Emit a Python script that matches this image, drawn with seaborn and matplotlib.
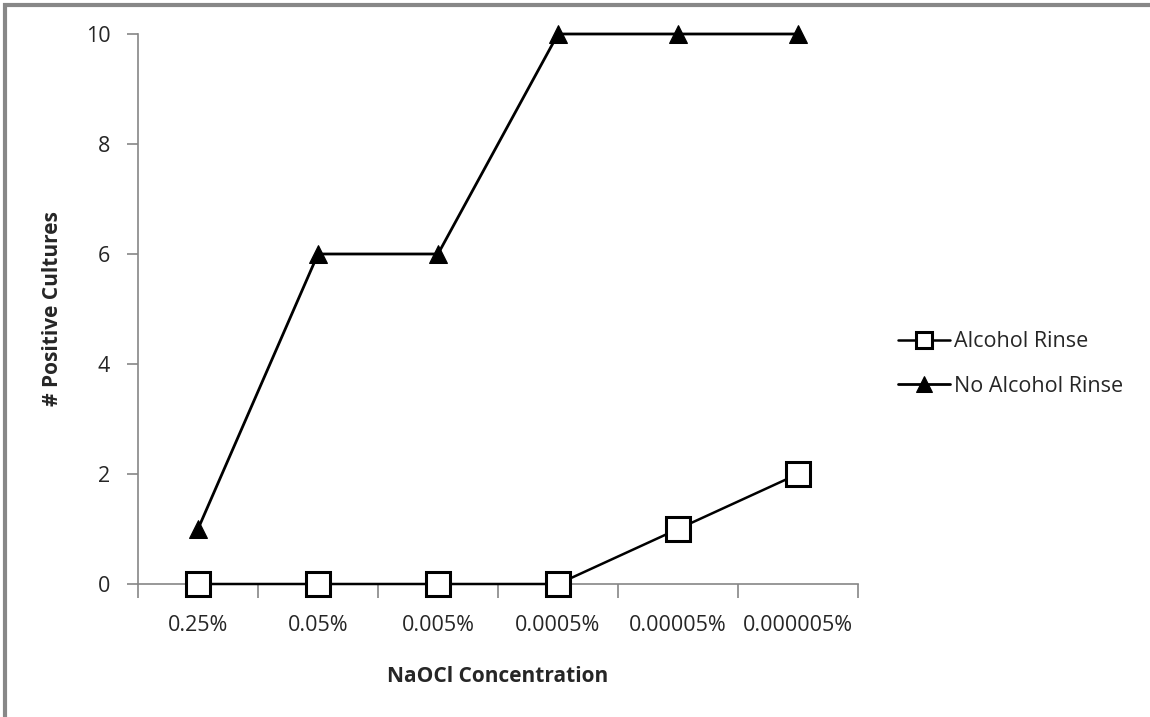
import numpy as np
import pandas as pd
import seaborn as sns
import matplotlib.pyplot as plt
from matplotlib.patches import Rectangle

concentrations = ['0.25%', '0.05%', '0.005%', '0.0005%', '0.00005%', '0.000005%']
alcohol_rinse = [0, 0, 0, 0, 1, 2]
no_alcohol_rinse = [1, 6, 6, 10, 10, 10]

df = pd.DataFrame({
    'idx': np.arange(len(concentrations)),
    'Alcohol Rinse': alcohol_rinse,
    'No Alcohol Rinse': no_alcohol_rinse,
})

sns.set_style('white')
plt.rcParams['font.family'] = ['Open Sans', 'DejaVu Sans']

fig = plt.figure(figsize=(11.5, 7.17), dpi=100)
ax = fig.add_axes([138 / 1150, 1 - 584 / 717, 720 / 1150, 550 / 717])

# outer chart border (only top and left visible in the crop)
fig.patches.append(Rectangle((5 / 1150, -0.1), 1.2, 1 - 5 / 717 + 0.1, transform=fig.transFigure,
                             fill=False, edgecolor='#878787', linewidth=3, zorder=0))

sns.lineplot(data=df, x='idx', y='Alcohol Rinse', ax=ax, color='black', linewidth=1.8,
             marker='s', markersize=17, markerfacecolor='white', markeredgecolor='black',
             markeredgewidth=2.2, label='Alcohol Rinse', clip_on=False, zorder=3)
sns.lineplot(data=df, x='idx', y='No Alcohol Rinse', ax=ax, color='black', linewidth=2.0,
             marker='^', markersize=13, markerfacecolor='black', markeredgecolor='black',
             label='No Alcohol Rinse', clip_on=False, zorder=3)

ax.set_xlim(-0.5, len(concentrations) - 0.5)
ax.set_ylim(0, 10)
ax.set_yticks([0, 2, 4, 6, 8, 10])
ax.set_xticks(np.arange(-0.5, len(concentrations), 1.0))
ax.set_xticklabels([])
ax.set_xticks(np.arange(len(concentrations)), minor=True)
ax.set_xticklabels(concentrations, minor=True)

for s in ['top', 'right']:
    ax.spines[s].set_visible(False)
for s in ['left', 'bottom']:
    ax.spines[s].set_color('#868686')
    ax.spines[s].set_linewidth(1.2)

ax.tick_params(axis='y', which='major', direction='out', length=8, width=1.2, color='#868686',
               labelsize=15.5, pad=12, left=True)
ax.tick_params(axis='x', which='major', direction='out', length=10, width=1.2, color='#868686',
               bottom=True)
ax.tick_params(axis='x', which='minor', length=0, labelsize=15.5, pad=22)

ax.set_xlabel('NaOCl Concentration', fontsize=15, fontweight='bold', labelpad=22)
ax.set_ylabel('# Positive Cultures', fontsize=15, fontweight='bold', labelpad=16)

leg = ax.legend(loc='center left', bbox_to_anchor=(1.0556, 0.40), frameon=False, fontsize=15.5,
                handlelength=2.4, handletextpad=0.2, labelspacing=1.1,
                borderpad=0, borderaxespad=0)
for ln in leg.get_lines():
    ln.set_markersize(11)

fig.savefig('out.png', dpi=100, facecolor='white')
